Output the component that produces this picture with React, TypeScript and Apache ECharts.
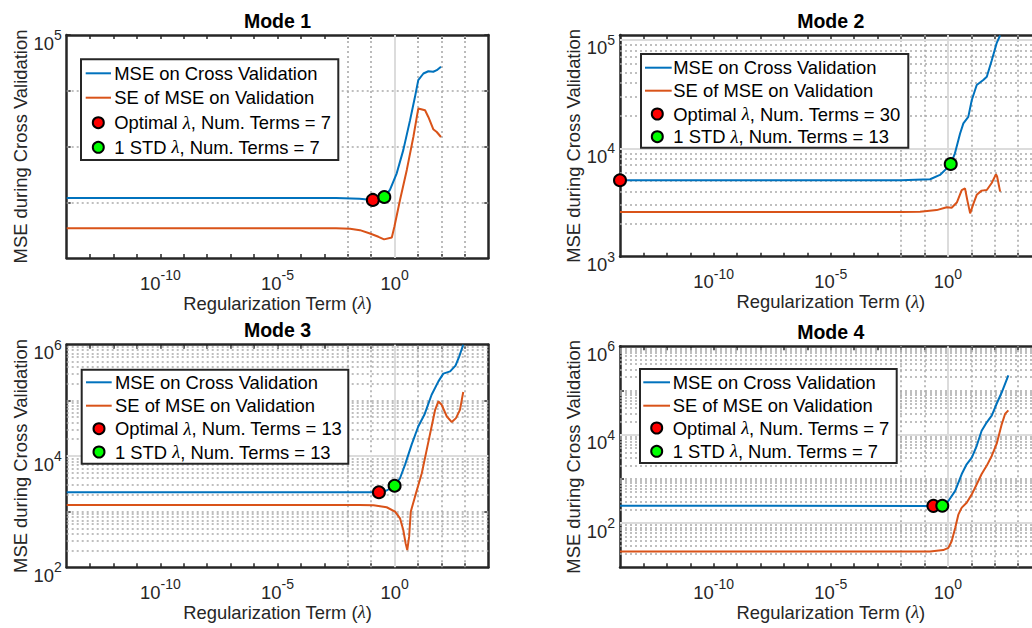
import React, { useEffect, useRef } from "react";
import * as echarts from "echarts";

const FONT = '"Liberation Sans", Arial, Helvetica, sans-serif';
const SERIF = '"Liberation Serif", "DejaVu Serif", serif';
const INK = "#262626";
const BLUE = "#0072BD";
const ORANGE = "#D95319";
const GRID_MAJOR = "#dcdcdc";
const GRID_MINOR = "#ababab";

// ---------------- data (x given as log10 of lambda) ----------------
const mseName = "MSE on Cross Validation";
const seName = "SE of MSE on Validation";
const modeTitles = ["Mode 1", "Mode 2", "Mode 3", "Mode 4"];
const optimalTerms = [7, 30, 13, 7];
const oneStdTerms = [7, 13, 13, 7];

const m1MseLogLambda = [-14, -2.5, -1.5, -0.93, -0.44, -0.2, 0.09, 0.37, 0.66, 0.87, 1.01, 1.23, 1.44, 1.65, 1.8, 1.98];
const m1Mse = [119, 119, 116, 110, 124, 166, 330, 861, 2970, 7780, 15500, 20400, 22400, 21900, 23400, 26900];
const m1SeLogLambda = [-14, -2.5, -1.9, -1.48, -1.05, -0.69, -0.45, -0.12, -0.01, 0.23, 0.52, 0.8, 1.01, 1.3, 1.44, 1.65, 1.8, 1.98];
const m1Se = [34, 34, 33.5, 31.6, 27.5, 24, 21.6, 23.4, 36.3, 110, 380, 1480, 4790, 4470, 3390, 2040, 1820, 1480];
const m1Optimal = [-0.93, 110];
const m1OneStd = [-0.44, 124];

const m2MseLogLambda = [-14, -2, -0.76, -0.34, -0.05, 0.12, 0.3, 0.52, 0.66, 0.87, 1.02, 1.23, 1.51, 1.66, 1.87, 2.08, 2.23];
const m2Mse = [5070, 5070, 5180, 5680, 6530, 7160, 9000, 13700, 17000, 19500, 27900, 38400, 42700, 45700, 64600, 93300, 110000];
const m2SeLogLambda = [-14, -2, -1.19, -0.48, -0.05, 0.16, 0.38, 0.59, 0.73, 0.83, 0.95, 1.09, 1.23, 1.44, 1.66, 1.87, 2.05, 2.1, 2.23];
const m2Se = [2580, 2590, 2600, 2690, 2860, 2830, 3160, 4120, 4270, 3310, 2510, 3090, 3720, 4070, 4120, 4790, 5750, 5500, 3980];
const m2Optimal = [-14, 5070];
const m2OneStd = [0.12, 7160];

const m3MseLogLambda = [-14, -1.5, -0.67, -0.34, 0, 0.23, 0.45, 0.73, 1.01, 1.27, 1.58, 1.87, 2.08, 2.37, 2.6, 2.76, 2.93];
const m3Mse = [2240, 2240, 2230, 2400, 2920, 3980, 7080, 16200, 33900, 55000, 126000, 219000, 302000, 331000, 420000, 617000, 1000000];
const m3SeLogLambda = [-14, -1.5, -0.9, -0.34, 0.02, 0.23, 0.37, 0.47, 0.54, 0.62, 0.69, 0.87, 1.16, 1.37, 1.58, 1.73, 1.87, 2.01, 2.23, 2.44, 2.62, 2.79, 2.93];
const m3Se = [1320, 1320, 1300, 1200, 1000, 759, 468, 269, 204, 355, 1000, 1860, 4900, 12900, 33900, 67600, 95500, 83200, 51300, 40700, 47900, 67600, 141000];
const m3Optimal = [-0.67, 2230];
const m3OneStd = [0.0, 2920];

const m4MseLogLambda = [-14, -0.62, -0.24, 0.02, 0.31, 0.59, 0.8, 1.02, 1.23, 1.44, 1.66, 1.87, 2.08, 2.3, 2.58];
const m4Mse = [247, 245, 247, 316, 537, 1290, 2140, 3020, 5620, 12300, 19100, 26900, 50100, 91200, 219000];
const m4SeLogLambda = [-14, -0.76, -0.2, 0.02, 0.16, 0.31, 0.45, 0.59, 0.8, 1.02, 1.23, 1.44, 1.66, 1.87, 2.08, 2.3, 2.44, 2.58];
const m4Se = [22.8, 22.8, 24.5, 27.5, 38.9, 77.6, 158, 224, 288, 447, 759, 1290, 2000, 3310, 6170, 17400, 29500, 35500];
const m4Optimal = [-0.62, 245];
const m4OneStd = [-0.24, 247];

// axis limits and ticks (log10 exponents)
const xLimitExps = [-14, 4];
const xLabelExps = [-10, -5, 0];
const xTickExps = [-13, -12, -11, -10, -9, -8, -7, -6, -5, -4, -3, -2, -1, 0, 1, 2, 3];
const xMinorGridExps = [-13, -12, -11, -9, -8, -7, -6, -4, -3, -2, -1, 1, 2, 3];
const yLimits = [[10, 1e5], [1e3, 1.11e5], [1e2, 1e6], [10, 1e6]];
const yLabelExps = [[5], [3, 4, 5], [2, 4, 6], [2, 4, 6]];
const yTickExps = [[2, 3, 4, 5], [4, 5], [3, 4, 5], [2, 3, 4, 5]];
const yMajorGridExps = [[], [4, 5], [4], [2, 4]];
const yDecadeMinorExps = [[2, 3, 4], [], [3, 5], [3, 5]];
const yMantissaDecades = [[], [3, 4], [2, 3, 4, 5], [1, 2, 3, 4, 5]];
const mantissas = [2, 3, 4, 5, 6, 7, 8, 9];

// ---------------- layout ----------------
const GRIDS = [
  { left: 66.7, top: 35, width: 421.6, height: 223 },
  { left: 620, top: 35, width: 421.6, height: 221.7 },
  { left: 66.7, top: 344.7, width: 421.6, height: 222.6 },
  { left: 620, top: 346.3, width: 421.6, height: 221 },
];
const LEGENDS = [
  { x: 81, y: 59.3, w: 257.3, h: 100.7, rows: [73.3, 97.7, 122.7, 147.3], l0: 85.7, l1: 111, mx: 98.3, tx: 114.3 },
  { x: 641, y: 54, w: 267.3, h: 93.7, rows: [67.7, 90.7, 114, 136.7], l0: 645, l1: 671.7, mx: 657.3, tx: 673.3 },
  { x: 81.7, y: 369.7, w: 266.6, h: 94, rows: [382.3, 405.7, 428.7, 452], l0: 86, l1: 111.7, mx: 99, tx: 115 },
  { x: 640, y: 369, w: 256.7, h: 94, rows: [382.3, 405.7, 428, 451.3], l0: 643.3, l1: 670, mx: 656.7, tx: 672.7 },
];

const MODES = [
  { mx: m1MseLogLambda, my: m1Mse, sx: m1SeLogLambda, sy: m1Se, opt: m1Optimal, std: m1OneStd },
  { mx: m2MseLogLambda, my: m2Mse, sx: m2SeLogLambda, sy: m2Se, opt: m2Optimal, std: m2OneStd },
  { mx: m3MseLogLambda, my: m3Mse, sx: m3SeLogLambda, sy: m3Se, opt: m3Optimal, std: m3OneStd },
  { mx: m4MseLogLambda, my: m4Mse, sx: m4SeLogLambda, sy: m4Se, opt: m4Optimal, std: m4OneStd },
];

const p10 = (e: number) => Math.pow(10, e);

const TEXT_SIZE = 18.4;
const tickRich = () => ({
  b: { fontSize: 18.4, fontFamily: FONT, color: INK, lineHeight: 24, verticalAlign: "bottom" },
  s: { fontSize: 14, fontFamily: FONT, color: INK, lineHeight: 10, verticalAlign: "top" },
});
const powFormatter = (v: number) => `{b|10}{s|${Math.round(Math.log10(v))}}`;
const lambdaRich = () => ({ l: { fontSize: TEXT_SIZE, fontFamily: SERIF, fontStyle: "italic", color: INK } });

function buildOption() {
  const xAxes: any[] = [];
  const yAxes: any[] = [];
  const series: any[] = [];
  const graphics: any[] = [];
  const grids = GRIDS.map((g) => ({ ...g, containLabel: false, outerBoundsMode: "none", show: false }));

  MODES.forEach((m, i) => {
    const axisLine = { show: true, onZero: false, lineStyle: { color: INK, width: 2.5 } };
    const xBase = {
      type: "log", logBase: 10, gridIndex: i, min: p10(xLimitExps[0]), max: p10(xLimitExps[1]),
      axisLine, splitLine: { show: false }, minorTick: { show: false }, minorSplitLine: { show: false },
      axisTick: { show: true, inside: true, length: 4, customValues: xTickExps.map(p10), lineStyle: { color: INK, width: 1.5 } },
    };
    xAxes.push({
      ...xBase, position: "bottom",
      axisLabel: {
        show: true, customValues: xLabelExps.map(p10), formatter: powFormatter, rich: tickRich(), margin: 10,
        fontSize: 18.4, fontFamily: FONT, color: INK,
      },
      name: "Regularization Term ({l|λ})", nameLocation: "middle", nameGap: 36,
      nameTextStyle: { fontSize: TEXT_SIZE, fontFamily: FONT, color: INK, rich: lambdaRich() },
    });
    xAxes.push({ ...xBase, position: "top", axisLabel: { show: false } });
    const yBase = {
      type: "log", logBase: 10, gridIndex: i, min: yLimits[i][0], max: yLimits[i][1],
      axisLine, splitLine: { show: false }, minorTick: { show: false }, minorSplitLine: { show: false },
      axisTick: { show: true, inside: true, length: 4, customValues: yTickExps[i].map(p10), lineStyle: { color: INK, width: 1.5 } },
    };
    yAxes.push({
      ...yBase, position: "left",
      axisLabel: {
        show: true, customValues: yLabelExps[i].map(p10), formatter: powFormatter, rich: tickRich(), margin: 5,
        padding: [10, 0, 0, 0], fontSize: 18.4, fontFamily: FONT, color: INK,
      },
      name: "MSE during Cross Validation", nameLocation: "middle", nameGap: 36,
      nameTextStyle: { fontSize: TEXT_SIZE, fontFamily: FONT, color: INK },
    });
    yAxes.push({ ...yBase, position: "right", axisLabel: { show: false } });

    const xi = 2 * i;
    const yi = 2 * i;
    const solid = { type: "solid", color: GRID_MAJOR, width: 2 };
    const dotted = { type: [2, 3], color: GRID_MINOR, width: 1.6 };
    const gridLines: any[] = [];
    xLabelExps.forEach((e) => gridLines.push({ xAxis: p10(e), lineStyle: solid }));
    xMinorGridExps.forEach((e) => gridLines.push({ xAxis: p10(e), lineStyle: dotted }));
    yMajorGridExps[i].forEach((e) => gridLines.push({ yAxis: p10(e), lineStyle: solid }));
    yDecadeMinorExps[i].forEach((e) => gridLines.push({ yAxis: p10(e), lineStyle: dotted }));
    yMantissaDecades[i].forEach((k) =>
      mantissas.forEach((mm) => {
        const v = mm * p10(k);
        if (v < yLimits[i][1]) gridLines.push({ yAxis: v, lineStyle: dotted });
      })
    );

    series.push({
      type: "line", name: seName, xAxisIndex: xi, yAxisIndex: yi, z: 3,
      data: m.sx.map((e, k) => [p10(e), m.sy[k]]),
      symbol: "none", showSymbol: false, lineStyle: { color: ORANGE, width: 2 }, itemStyle: { color: ORANGE },
      markLine: { silent: true, z: 1, symbol: ["none", "none"], label: { show: false }, emphasis: { disabled: true }, data: gridLines, animation: false },
    });
    series.push({
      type: "line", name: mseName, xAxisIndex: xi, yAxisIndex: yi, z: 3,
      data: m.mx.map((e, k) => [p10(e), m.my[k]]),
      symbol: "none", showSymbol: false, lineStyle: { color: BLUE, width: 2 }, itemStyle: { color: BLUE },
    });
    series.push({
      type: "scatter", name: `Optimal λ, Num. Terms = ${optimalTerms[i]}`, xAxisIndex: xi, yAxisIndex: yi, z: 4, clip: false,
      data: [[p10(m.opt[0]), m.opt[1]]], symbol: "circle", symbolSize: 12,
      itemStyle: { color: "#ff0000", borderColor: "#000", borderWidth: 2, opacity: 1 },
    });
    series.push({
      type: "scatter", name: `1 STD λ, Num. Terms = ${oneStdTerms[i]}`, xAxisIndex: xi, yAxisIndex: yi, z: 5, clip: false,
      data: [[p10(m.std[0]), m.std[1]]], symbol: "circle", symbolSize: 12,
      itemStyle: { color: "#00ff00", borderColor: "#000", borderWidth: 2, opacity: 1 },
    });

    // title
    const g = GRIDS[i];
    graphics.push({
      type: "text", x: g.left + g.width / 2, y: g.top - 14.5, z: 100,
      style: { text: modeTitles[i], fontSize: 19.5, fontWeight: "bold", fontFamily: FONT, fill: "#000", align: "center", verticalAlign: "middle" },
    });

    // legend box
    const L = LEGENDS[i];
    const children: any[] = [];
    children.push({ type: "rect", shape: { x: L.x, y: L.y, width: L.w, height: L.h }, style: { fill: "#fff", stroke: INK, lineWidth: 2 }, z: 100 });
    const texts = [mseName, seName, `Optimal {l|λ}, Num. Terms = ${optimalTerms[i]}`, `1 STD {l|λ}, Num. Terms = ${oneStdTerms[i]}`];
    children.push({ type: "line", shape: { x1: L.l0, y1: L.rows[0], x2: L.l1, y2: L.rows[0] }, style: { stroke: BLUE, lineWidth: 2 }, z: 101 });
    children.push({ type: "line", shape: { x1: L.l0, y1: L.rows[1], x2: L.l1, y2: L.rows[1] }, style: { stroke: ORANGE, lineWidth: 2 }, z: 101 });
    children.push({ type: "circle", shape: { cx: L.mx, cy: L.rows[2], r: 5.5 }, style: { fill: "#ff0000", stroke: "#000", lineWidth: 2 }, z: 101 });
    children.push({ type: "circle", shape: { cx: L.mx, cy: L.rows[3], r: 5.5 }, style: { fill: "#00ff00", stroke: "#000", lineWidth: 2 }, z: 101 });
    texts.forEach((t, k) =>
      children.push({
        type: "text", x: L.tx, y: L.rows[k], z: 101,
        style: { text: t, fontSize: TEXT_SIZE, fontFamily: FONT, fill: "#000", align: "left", verticalAlign: "middle", rich: lambdaRich() },
      })
    );
    graphics.push({ type: "group", children });
  });

  return {
    animation: false,
    backgroundColor: "#ffffff",
    textStyle: { fontFamily: FONT },
    grid: grids,
    xAxis: xAxes,
    yAxis: yAxes,
    series,
    graphic: { elements: graphics },
  };
}

export default function App() {
  const ref = useRef<HTMLDivElement>(null);
  useEffect(() => {
    if (!ref.current) return;
    const chart = echarts.init(ref.current, undefined, { renderer: "svg", width: 1032, height: 628 });
    chart.setOption(buildOption() as any);
    return () => chart.dispose();
  }, []);
  return (
    <div
      ref={ref}
      style={{ position: "fixed", left: 0, top: 0, width: 1032, height: 628, background: "#fff" }}
    />
  );
}
